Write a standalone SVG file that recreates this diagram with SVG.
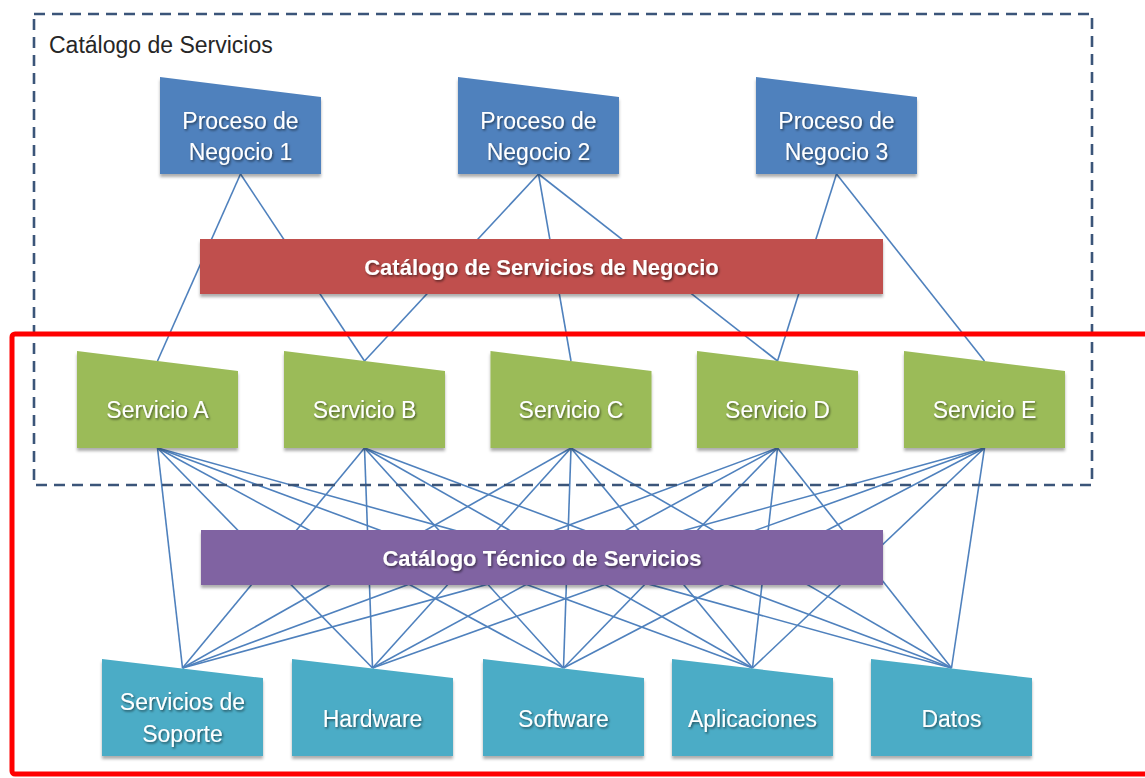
<svg xmlns="http://www.w3.org/2000/svg" xmlns:xlink="http://www.w3.org/1999/xlink" width="1145" height="778" viewBox="0 0 1145 778">
  <defs>
    <filter id="boxShadow" x="-10%" y="-10%" width="120%" height="130%">
      <feDropShadow dx="0" dy="3" stdDeviation="1.6" flood-color="#000" flood-opacity="0.32"/>
    </filter>
    <filter id="textShadow" x="-10%" y="-30%" width="120%" height="160%">
      <feDropShadow dx="1.2" dy="1.5" stdDeviation="0.8" flood-color="#000" flood-opacity="0.55"/>
    </filter>
  </defs>
  <style>
    .lbl { font-family: "Liberation Sans", Arial, sans-serif; font-size: 23px; fill: #ffffff; text-anchor: middle; filter: url(#textShadow); }
    .bar-lbl { font-family: "Liberation Sans", Arial, sans-serif; font-size: 22px; font-weight: bold; fill: #ffffff; text-anchor: middle; filter: url(#textShadow); }
    .title { font-family: "Liberation Sans", Arial, sans-serif; font-size: 23px; fill: #262626; }
    .proc { fill: #4f81bd; filter: url(#boxShadow); }
    .serv { fill: #9bbb59; filter: url(#boxShadow); }
    .tech { fill: #4bacc6; filter: url(#boxShadow); }
    .bar-biz { fill: #c0504d; filter: url(#boxShadow); }
    .bar-tech { fill: #8064a2; filter: url(#boxShadow); }
    #connectors line { stroke: #4f81bd; stroke-width: 1.6; }
  </style>

  <rect width="1145" height="778" fill="#ffffff"/>

  <!-- connectors (drawn first so the bars hide the crossing parts) -->
  <g id="connectors">
    <!-- business processes to services -->
    <line x1="240.5" y1="174" x2="157.5" y2="361"/>
    <line x1="240.5" y1="174" x2="364.5" y2="361"/>
    <line x1="538.5" y1="174" x2="364.5" y2="361"/>
    <line x1="538.5" y1="174" x2="571" y2="361"/>
    <line x1="538.5" y1="174" x2="777.5" y2="361"/>
    <line x1="836.5" y1="174" x2="777.5" y2="361"/>
    <line x1="836.5" y1="174" x2="984.5" y2="361"/>
    <!-- services to technical components -->
    <line x1="157.5" y1="448" x2="182.5" y2="668"/>
    <line x1="157.5" y1="448" x2="372.5" y2="668"/>
    <line x1="157.5" y1="448" x2="563.5" y2="668"/>
    <line x1="157.5" y1="448" x2="752.5" y2="668"/>
    <line x1="157.5" y1="448" x2="951.5" y2="668"/>
    <line x1="364.5" y1="448" x2="182.5" y2="668"/>
    <line x1="364.5" y1="448" x2="372.5" y2="668"/>
    <line x1="364.5" y1="448" x2="563.5" y2="668"/>
    <line x1="364.5" y1="448" x2="752.5" y2="668"/>
    <line x1="364.5" y1="448" x2="951.5" y2="668"/>
    <line x1="571" y1="448" x2="182.5" y2="668"/>
    <line x1="571" y1="448" x2="372.5" y2="668"/>
    <line x1="571" y1="448" x2="563.5" y2="668"/>
    <line x1="571" y1="448" x2="752.5" y2="668"/>
    <line x1="571" y1="448" x2="951.5" y2="668"/>
    <line x1="777.5" y1="448" x2="182.5" y2="668"/>
    <line x1="777.5" y1="448" x2="372.5" y2="668"/>
    <line x1="777.5" y1="448" x2="563.5" y2="668"/>
    <line x1="777.5" y1="448" x2="752.5" y2="668"/>
    <line x1="777.5" y1="448" x2="951.5" y2="668"/>
    <line x1="984.5" y1="448" x2="182.5" y2="668"/>
    <line x1="984.5" y1="448" x2="372.5" y2="668"/>
    <line x1="984.5" y1="448" x2="563.5" y2="668"/>
    <line x1="984.5" y1="448" x2="752.5" y2="668"/>
    <line x1="984.5" y1="448" x2="951.5" y2="668"/>
  </g>

  <!-- service catalogue boundary -->
  <g id="catalogo-servicios">
    <rect x="34" y="14" width="1058" height="471" fill="none" stroke="#3b5579" stroke-width="2.6" stroke-dasharray="11 7"/>
    <text class="title" x="49" y="53">Catálogo de Servicios</text>
  </g>

  <!-- business processes -->
  <g id="proceso-1">
    <polygon class="proc" points="160,77 321,97 321,174 160,174"/>
    <text class="lbl" x="240.5" y="129">Proceso de</text>
    <text class="lbl" x="240.5" y="160">Negocio 1</text>
  </g>
  <g id="proceso-2">
    <polygon class="proc" points="458,77 619,97 619,174 458,174"/>
    <text class="lbl" x="538.5" y="129">Proceso de</text>
    <text class="lbl" x="538.5" y="160">Negocio 2</text>
  </g>
  <g id="proceso-3">
    <polygon class="proc" points="756,77 917,97 917,174 756,174"/>
    <text class="lbl" x="836.5" y="129">Proceso de</text>
    <text class="lbl" x="836.5" y="160">Negocio 3</text>
  </g>

  <!-- business service catalogue bar -->
  <g id="catalogo-negocio">
    <rect class="bar-biz" x="200" y="239" width="683" height="55"/>
    <text class="bar-lbl" x="541.5" y="275">Catálogo de Servicios de Negocio</text>
  </g>

  <!-- services -->
  <g id="servicio-a">
    <polygon class="serv" points="77,351 238,371 238,448 77,448"/>
    <text class="lbl" x="157.5" y="418">Servicio A</text>
  </g>
  <g id="servicio-b">
    <polygon class="serv" points="284,351 445,371 445,448 284,448"/>
    <text class="lbl" x="364.5" y="418">Servicio B</text>
  </g>
  <g id="servicio-c">
    <polygon class="serv" points="490.5,351 651.5,371 651.5,448 490.5,448"/>
    <text class="lbl" x="571" y="418">Servicio C</text>
  </g>
  <g id="servicio-d">
    <polygon class="serv" points="697,351 858,371 858,448 697,448"/>
    <text class="lbl" x="777.5" y="418">Servicio D</text>
  </g>
  <g id="servicio-e">
    <polygon class="serv" points="904,351 1065,371 1065,448 904,448"/>
    <text class="lbl" x="984.5" y="418">Servicio E</text>
  </g>

  <!-- technical service catalogue bar -->
  <g id="catalogo-tecnico">
    <rect class="bar-tech" x="201" y="530" width="682" height="55"/>
    <text class="bar-lbl" x="542" y="566">Catálogo Técnico de Servicios</text>
  </g>

  <!-- technical components -->
  <g id="soporte">
    <polygon class="tech" points="102,659 263,678 263,756 102,756"/>
    <text class="lbl" x="182.5" y="710">Servicios de</text>
    <text class="lbl" x="182.5" y="742">Soporte</text>
  </g>
  <g id="hardware">
    <polygon class="tech" points="292,659 453,678 453,756 292,756"/>
    <text class="lbl" x="372.5" y="727">Hardware</text>
  </g>
  <g id="software">
    <polygon class="tech" points="483,659 644,678 644,756 483,756"/>
    <text class="lbl" x="563.5" y="727">Software</text>
  </g>
  <g id="aplicaciones">
    <polygon class="tech" points="672,659 833,678 833,756 672,756"/>
    <text class="lbl" x="752.5" y="727">Aplicaciones</text>
  </g>
  <g id="datos">
    <polygon class="tech" points="871,659 1032,678 1032,756 871,756"/>
    <text class="lbl" x="951.5" y="727">Datos</text>
  </g>

  <!-- highlight frame around the technical part -->
  <g id="marco-tecnico">
    <rect x="12" y="334" width="1140" height="440" rx="3" fill="none" stroke="#ff0000" stroke-width="5"/>
  </g>
</svg>
